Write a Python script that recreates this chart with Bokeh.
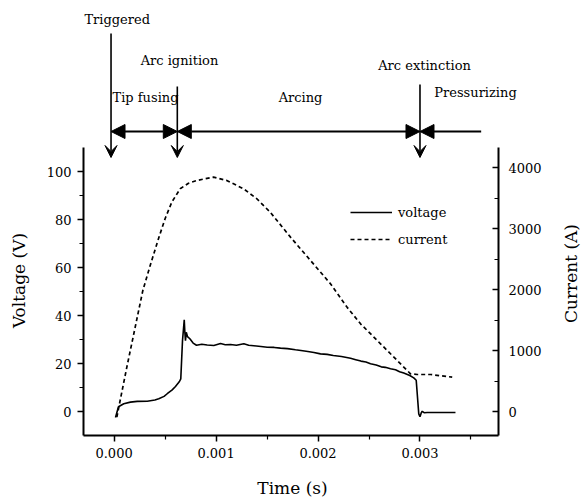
import numpy as np
from bokeh.plotting import figure
from bokeh.models import (Range1d, LinearAxis, FixedTicker, PrintfTickFormatter,
                          Label, Arrow, NormalHead, VeeHead, Legend, LegendItem)
from bokeh.embed import file_html
from bokeh.resources import INLINE

# ---------------- data ----------------
time_v = [0.000014, 0.000043, 0.000095, 0.000160, 0.000227, 0.000325, 0.000400, 0.000438,
          0.000490, 0.000521, 0.000570, 0.000602, 0.000641, 0.000654, 0.000671, 0.000688,
          0.000694, 0.000700, 0.000708, 0.000720, 0.000743, 0.000775, 0.000808, 0.000860,
          0.000913, 0.000978, 0.001044, 0.001090, 0.001142, 0.001200, 0.001272, 0.001320,
          0.001370, 0.001440, 0.001502, 0.001570, 0.001632, 0.001700, 0.001779, 0.001850,
          0.001900, 0.001960, 0.002024, 0.002090, 0.002150, 0.002230, 0.002319, 0.002370,
          0.002420, 0.002470, 0.002515, 0.002570, 0.002620, 0.002660, 0.002711, 0.002760,
          0.002800, 0.002841, 0.002900, 0.002939, 0.002963, 0.002978, 0.002988, 0.003000,
          0.003012, 0.003022, 0.003040, 0.003071, 0.003348]
voltage = [-2.5, 2.0, 3.2, 3.9, 4.2, 4.3, 4.8, 5.3,
           6.3, 7.4, 9.0, 10.4, 12.5, 13.6, 29.6, 38.2,
           33.0, 29.5, 33.0, 31.2, 30.3, 28.5, 27.6, 28.0,
           27.7, 27.5, 28.3, 27.8, 27.9, 27.6, 28.2, 27.6,
           27.4, 27.1, 26.8, 26.7, 26.4, 26.2, 25.7, 25.3,
           25.0, 24.6, 24.0, 23.8, 23.3, 22.9, 22.2, 21.6,
           21.0, 20.6, 19.9, 19.4, 18.6, 18.4, 17.8, 17.4,
           16.6, 16.0, 15.0, 14.0, 13.0, 4.6, -1.0, -2.2,
           -0.6, 0.1, -0.5, -0.4, -0.4]

time_i = [0.000027, 0.000053, 0.000125, 0.000190, 0.000282, 0.000357, 0.000436, 0.000501,
          0.000566, 0.000648, 0.000730, 0.000811, 0.000975, 0.001105, 0.001269, 0.001400,
          0.001531, 0.001730, 0.001926, 0.002122, 0.002286, 0.002417, 0.002613, 0.002777,
          0.002907, 0.002973, 0.003103, 0.003316]
current = [-90, 130, 730, 1250, 1987, 2413, 2839, 3167,
           3434, 3654, 3745, 3790, 3844, 3790, 3654, 3490,
           3270, 2861, 2479, 2097, 1710, 1441, 1113, 839,
           621, 610, 610, 566]

event_names = ["Triggered", "Arc ignition", "Arc extinction"]
event_times = [-0.00003, 0.00062, 0.00300]
end_time = 0.00360
phase_names = ["Tip fusing", "Arcing", "Pressurizing"]

x_ticks = [0.0, 0.001, 0.002, 0.003]
x_minor = [0.0005, 0.0015, 0.0025, 0.0035]
v_ticks = [0, 20, 40, 60, 80, 100]
v_minor = [10, 30, 50, 70, 90]
i_ticks = [0, 1000, 2000, 3000, 4000]
i_minor = [500, 1500, 2500, 3500]

# ---------------- layout ----------------
W, H = 585, 498
FL, FR = 83, 498        # left / right axis position (px)
FB = 435                # bottom axis position (px)
AX_TOP = 147            # top end of the y axes (px)
X0, X1 = -0.0003, 0.00377
V0, V1 = -10, 110
I0, I1 = -390, 4330

px_per_t = (FR - FL) / (X1 - X0)
px_per_v = (FB - AX_TOP) / (V1 - V0)
px_per_i = (FB - AX_TOP) / (I1 - I0)
XA, XB = X0 - FL / px_per_t, X1 + (W - FR) / px_per_t
VA, VB = V0 - (H - FB) / px_per_v, V1 + AX_TOP / px_per_v
IA, IB = I0 - (H - FB) / px_per_i, I1 + AX_TOP / px_per_i


def tx(px):
    return XA + px / px_per_t


def vy(py):
    return VA + (H - py) / px_per_v


FONT = "DejaVu Serif"

p = figure(width=W, height=H, x_range=Range1d(XA, XB), y_range=Range1d(VA, VB),
           output_backend="svg", toolbar_location=None, min_border=0,
           x_axis_location=None, y_axis_location=None)
p.outline_line_color = None
p.grid.visible = False
p.extra_y_ranges = {"cur": Range1d(IA, IB)}

xax = LinearAxis(fixed_location=V0, bounds=(X0, X1))
yax = LinearAxis(fixed_location=X0, bounds=(V0, V1))
right = LinearAxis(y_range_name="cur", fixed_location=X1, bounds=(I0, I1))
p.add_layout(xax, "below")
p.add_layout(yax, "left")
p.add_layout(right, "right")

for ax in (xax, yax, right):
    ax.axis_line_width = 2
    ax.axis_line_color = "black"
    ax.major_tick_line_width = 1.5
    ax.minor_tick_line_width = 1.2
    ax.major_tick_line_color = "black"
    ax.minor_tick_line_color = "black"
    ax.major_label_text_font = FONT
    ax.major_label_text_font_size = "13px"
    ax.major_label_text_color = "black"

xax.ticker = FixedTicker(ticks=x_ticks, minor_ticks=x_minor)
xax.formatter = PrintfTickFormatter(format="%.3f")
xax.major_tick_out = 6
xax.major_tick_in = 0
xax.minor_tick_out = 4
xax.minor_tick_in = 0
xax.major_label_standoff = 6

yax.ticker = FixedTicker(ticks=v_ticks, minor_ticks=v_minor)
yax.major_tick_out = 6
yax.major_tick_in = 0
yax.minor_tick_out = 4
yax.minor_tick_in = 0
yax.major_label_standoff = 6

right.ticker = FixedTicker(ticks=i_ticks, minor_ticks=i_minor)
right.major_tick_out = 0
right.major_tick_in = 6
right.minor_tick_out = 0
right.minor_tick_in = 4
right.major_label_standoff = 10

# ---------------- curves ----------------
r_v = p.line(time_v, voltage, line_color="black", line_width=1.6)
r_i = p.line(time_i, current, y_range_name="cur", line_color="black",
             line_width=1.7, line_dash="4 3")

legend = Legend(items=[LegendItem(label="voltage", renderers=[r_v]),
                       LegendItem(label="current", renderers=[r_i])],
                location=(350, 249), border_line_color=None, background_fill_alpha=0,
                label_text_font=FONT, label_text_font_size="13px",
                label_text_color="black",
                glyph_width=42, label_standoff=6, spacing=7, padding=10, margin=0)
p.add_layout(legend)

# ---------------- axis titles ----------------
p.add_layout(Label(x=tx(18), y=vy(280), text="Voltage (V)", angle=np.pi / 2,
                   text_align="center", text_baseline="middle",
                   text_font=FONT, text_font_size="17px", text_color="black"))
p.add_layout(Label(x=tx(570), y=vy(273), text="Current (A)", angle=np.pi / 2,
                   text_align="center", text_baseline="middle",
                   text_font=FONT, text_font_size="17px", text_color="black"))
p.add_layout(Label(x=tx(292), y=vy(487), text="Time (s)",
                   text_align="center", text_baseline="middle",
                   text_font=FONT, text_font_size="17px", text_color="black"))

# ---------------- event annotations ----------------
event_label_px = [(116.7, 19), (179, 60), (424, 65)]
event_arrow_top = [33, 86, 84]
ARROW_TIP = 157
for name, t, (lx, ly), top in zip(event_names, event_times, event_label_px, event_arrow_top):
    p.add_layout(Label(x=tx(lx), y=vy(ly), text=name, text_align="center",
                       text_baseline="middle", text_font=FONT, text_font_size="13px",
                       text_color="black"))
    p.add_layout(Arrow(x_start=t, y_start=vy(top), x_end=t, y_end=vy(ARROW_TIP),
                       line_width=1.6, line_color="black",
                       end=VeeHead(size=12, fill_color="black", line_color="black")))

phase_bounds = event_times + [end_time]
phase_label_px = [(145, 97), (300, 97), (475, 92)]
H_LINE = 131
for k, (name, (lx, ly)) in enumerate(zip(phase_names, phase_label_px)):
    p.add_layout(Label(x=tx(lx), y=vy(ly), text=name, text_align="center",
                       text_baseline="middle", text_font=FONT, text_font_size="13px",
                       text_color="black"))
    end_head = NormalHead(size=14, fill_color="black", line_color="black") if k < 2 else None
    p.add_layout(Arrow(x_start=phase_bounds[k], y_start=vy(H_LINE),
                       x_end=phase_bounds[k + 1], y_end=vy(H_LINE),
                       line_width=1.8, line_color="black",
                       start=NormalHead(size=14, fill_color="black", line_color="black"),
                       end=end_head))

open("out.html", "w").write(file_html(p, INLINE))
